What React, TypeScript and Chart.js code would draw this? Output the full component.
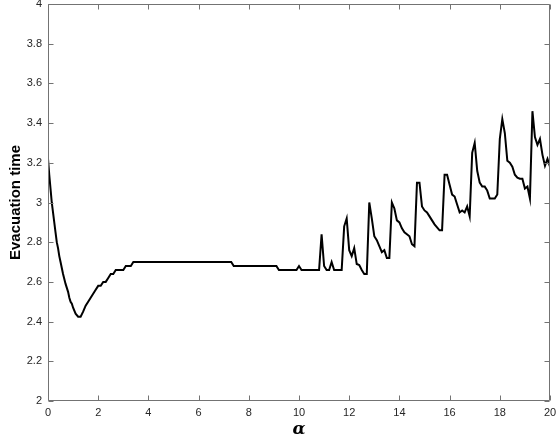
import React, { useEffect, useRef } from "react";
import { Chart, registerables } from "chart.js";

Chart.register(...registerables);

const alphaValues: number[] = [
  0, 0.05, 0.1, 0.15, 0.2, 0.25, 0.3, 0.35, 0.4, 0.45, 0.5, 0.6, 0.7, 0.8, 0.85, 0.9, 0.95, 1.0, 1.1, 1.2, 1.3,
  1.4, 1.5, 1.6, 1.7, 1.8, 1.9, 2.0, 2.1, 2.2, 2.3, 2.4, 2.5, 2.6, 2.7, 3.0, 3.1, 3.3, 3.4,
  7.3, 7.4, 9.1, 9.2, 9.9, 10.0, 10.1, 10.8, 10.9, 11.0, 11.1, 11.2, 11.3, 11.4, 11.7,
  11.8, 11.9, 12.0, 12.1, 12.2, 12.3, 12.4, 12.5, 12.6, 12.7, 12.8, 12.9, 13.0, 13.1, 13.2, 13.3, 13.4, 13.5, 13.6,
  13.7, 13.8, 13.9, 14.0, 14.1, 14.2, 14.3, 14.4, 14.5, 14.6, 14.7, 14.8, 14.9, 15.0, 15.1, 15.2, 15.3, 15.4, 15.5, 15.6, 15.7,
  15.8, 15.9, 16.0, 16.1, 16.2, 16.3, 16.4, 16.5, 16.6, 16.7, 16.8, 16.9, 17.0, 17.1, 17.2, 17.3, 17.4, 17.5, 17.6, 17.7, 17.8, 17.9,
  18.0, 18.1, 18.2, 18.3, 18.4, 18.5, 18.6, 18.7, 18.8, 18.9, 19.0, 19.1, 19.2, 19.3, 19.4, 19.5, 19.6, 19.7, 19.8, 19.9, 20.0,
];

const evacuationTime: number[] = [
  3.22, 3.14, 3.07, 3.0, 2.95, 2.9, 2.85, 2.8, 2.77, 2.73, 2.7, 2.64, 2.59, 2.55, 2.52, 2.5, 2.49, 2.47, 2.44, 2.425, 2.425,
  2.45, 2.48, 2.5, 2.52, 2.54, 2.56, 2.58, 2.58, 2.6, 2.6, 2.62, 2.64, 2.64, 2.66, 2.66, 2.68, 2.68, 2.7,
  2.7, 2.68, 2.68, 2.66, 2.66, 2.68, 2.66, 2.66, 2.84, 2.68, 2.66, 2.66, 2.7, 2.66, 2.66,
  2.88, 2.92, 2.76, 2.73, 2.77, 2.69, 2.685, 2.66, 2.64, 2.64, 3.0, 2.92, 2.83, 2.81, 2.78, 2.75, 2.76, 2.72, 2.72,
  3.0, 2.97, 2.91, 2.9, 2.87, 2.85, 2.84, 2.83, 2.79, 2.78, 3.1, 3.1, 2.98, 2.96, 2.95, 2.93, 2.91, 2.89, 2.875, 2.86, 2.86,
  3.14, 3.14, 3.09, 3.04, 3.03, 2.99, 2.95, 2.96, 2.95, 2.98, 2.93, 3.25, 3.3, 3.16, 3.1, 3.08, 3.08, 3.06, 3.02, 3.02, 3.02, 3.04,
  3.32, 3.42, 3.35, 3.21, 3.2, 3.18, 3.14, 3.125, 3.12, 3.12, 3.07, 3.08, 3.02, 3.46, 3.33, 3.29, 3.32, 3.24, 3.185, 3.22, 3.18,
];

const xTickValues: number[] = [0, 2, 4, 6, 8, 10, 12, 14, 16, 18, 20];
const yTickValues: number[] = [2, 2.2, 2.4, 2.6, 2.8, 3, 3.2, 3.4, 3.6, 3.8, 4];

const AXIS_COLOR = "#737373";
const TEXT_COLOR = "#262626";

const framePlugin = {
  id: "matlabFrame",
  afterDraw(chart: any) {
    const { ctx, chartArea } = chart;
    const { left, right, top, bottom } = chartArea;
    const xs = chart.scales.x;
    const ys = chart.scales.y;
    const tl = 5;
    ctx.save();
    ctx.strokeStyle = AXIS_COLOR;
    ctx.lineWidth = 1;
    ctx.beginPath();
    const L = Math.round(left) + 0.5;
    const R = Math.round(right) - 0.5;
    const T = Math.round(top) + 0.5;
    const B = Math.round(bottom) - 0.5;
    ctx.rect(L, T, R - L, B - T);
    for (const v of xTickValues) {
      const px = Math.round(xs.getPixelForValue(v)) + 0.5;
      ctx.moveTo(px, B);
      ctx.lineTo(px, B - tl);
      ctx.moveTo(px, T);
      ctx.lineTo(px, T + tl);
    }
    for (const v of yTickValues) {
      const py = Math.round(ys.getPixelForValue(v)) + 0.5;
      ctx.moveTo(L, py);
      ctx.lineTo(L + tl, py);
      ctx.moveTo(R, py);
      ctx.lineTo(R - tl, py);
    }
    ctx.stroke();
    ctx.restore();
  },
};

export default function App() {
  const canvasRef = useRef<HTMLCanvasElement | null>(null);

  useEffect(() => {
    const canvas = canvasRef.current;
    if (!canvas) return;
    const points = alphaValues.map((a, i) => ({ x: a, y: evacuationTime[i] }));
    const tickFont = { family: "'Liberation Sans', Arial, Helvetica, sans-serif", size: 11 };
    const chart = new Chart(canvas, {
      type: "line",
      data: {
        datasets: [
          {
            data: points,
            borderColor: "#000000",
            borderWidth: 2,
            pointRadius: 0,
            tension: 0,
            fill: false,
          },
        ],
      },
      options: {
        animation: false,
        responsive: false,
        events: [],
        layout: { padding: { top: 4, right: 7, left: 0, bottom: 0 } },
        plugins: { legend: { display: false }, tooltip: { enabled: false } },
        scales: {
          x: {
            type: "linear",
            min: 0,
            max: 20,
            afterBuildTicks: (scale: any) => {
              scale.ticks = xTickValues.map((v) => ({ value: v }));
            },
            afterFit: (scale: any) => {
              scale.height = 40;
              scale.paddingLeft = 0;
              scale.paddingRight = 0;
            },
            grid: { display: false, drawTicks: false },
            border: { display: false },
            ticks: {
              font: tickFont,
              color: TEXT_COLOR,
              padding: 5,
              maxRotation: 0,
              autoSkip: false,
              callback: (v: any) => String(v),
            },
            title: {
              display: true,
              text: "α",
              color: "#000000",
              font: { family: "'DejaVu Serif', 'Liberation Serif', serif", size: 17, weight: "bold", style: "italic" },
              padding: { top: 0, bottom: 1 },
            },
          },
          y: {
            type: "linear",
            min: 2,
            max: 4,
            afterBuildTicks: (scale: any) => {
              scale.ticks = yTickValues.map((v) => ({ value: v }));
            },
            afterFit: (scale: any) => {
              scale.width = 48;
              scale.paddingTop = 0;
              scale.paddingBottom = 0;
            },
            grid: { display: false, drawTicks: false },
            border: { display: false },
            ticks: {
              font: tickFont,
              color: TEXT_COLOR,
              padding: 6,
              autoSkip: false,
              callback: (v: any) => String(Math.round(v * 10) / 10),
            },
            title: {
              display: true,
              text: "Evacuation time",
              color: "#000000",
              font: { family: "'Liberation Sans', Arial, Helvetica, sans-serif", size: 15, weight: "bold" },
              padding: { top: 7, bottom: 0 },
            },
          },
        },
      },
      plugins: [framePlugin],
    } as any);
    return () => chart.destroy();
  }, []);

  return (
    <div style={{ position: "fixed", left: 0, top: 0, width: 557, height: 441, background: "#ffffff" }}>
      <canvas ref={canvasRef} width={557} height={441} style={{ display: "block" }} />
    </div>
  );
}
